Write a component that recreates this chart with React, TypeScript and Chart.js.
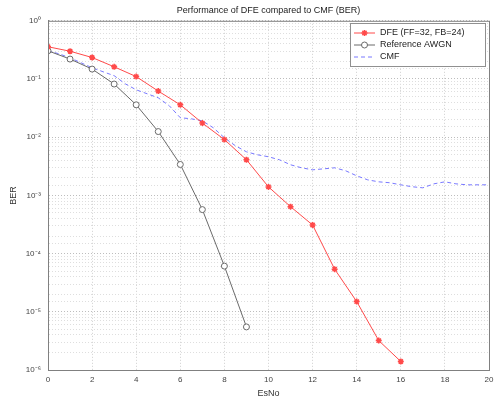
import React, { useEffect, useRef } from "react";
import { Chart, registerables } from "chart.js";

Chart.register(...registerables);

const TITLE = "Performance of DFE compared to CMF (BER)";
const X_LABEL = "EsNo";
const Y_LABEL = "BER";

const esnoDFE = [0, 1, 2, 3, 4, 5, 6, 7, 8, 9, 10, 11, 12, 13, 14, 15, 16];
const berDFE = [0.358, 0.3, 0.234, 0.162, 0.11, 0.062, 0.036, 0.0175, 0.0091, 0.0041, 0.0014, 6.4e-4, 3.1e-4, 5.4e-5, 1.5e-5, 3.2e-6, 1.4e-6];

const esnoAWGN = [0, 1, 2, 3, 4, 5, 6, 7, 8, 9];
const berAWGN = [0.305, 0.22, 0.148, 0.082, 0.036, 0.0125, 0.0034, 5.7e-4, 6.1e-5, 5.5e-6];

const esnoCMF = [0, 0.5, 1, 1.5, 2, 2.5, 3, 3.5, 4, 4.5, 5, 5.5, 6, 6.5, 7, 7.5, 8, 8.5, 9, 9.5, 10, 10.5, 11, 11.5, 12, 12.5, 13, 13.5, 14, 14.5, 15, 15.5, 16, 16.5, 17, 17.5, 18, 18.5, 19, 19.5, 20];
const berCMF = [0.305, 0.271, 0.231, 0.19, 0.156, 0.133, 0.114, 0.0828, 0.0652, 0.0557, 0.0475, 0.0347, 0.0216, 0.0207, 0.0191, 0.0145, 0.00977, 0.00712, 0.00561, 0.00499, 0.00461, 0.00409, 0.00336, 0.00298, 0.00275, 0.00286, 0.00298, 0.00265, 0.00217, 0.00185, 0.00171, 0.00165, 0.00152, 0.00141, 0.00135, 0.00158, 0.00171, 0.00158, 0.00152, 0.00152, 0.00152];

const seriesLabels = ["DFE (FF=32, FB=24)", "Reference AWGN", "CMF"];
const xTicks = [0, 2, 4, 6, 8, 10, 12, 14, 16, 18, 20];
const SUP: Record<string, string> = { "0": "⁰", "1": "¹", "2": "²", "3": "³", "4": "⁴", "5": "⁵", "6": "⁶", "-": "⁻" };

const RED = "#ff4a4a";
const GRAY = "#6a6a6a";
const BLUE = "#7878ff";
const FONT = "'Liberation Sans', Arial, sans-serif";

const isDecade = (v: number) => {
  const l = Math.log10(v);
  return Math.abs(l - Math.round(l)) < 1e-6;
};

function drawStar(ctx: CanvasRenderingContext2D, x: number, y: number, r: number) {
  for (let i = 0; i < 4; i++) {
    const a = (i * Math.PI) / 4;
    ctx.beginPath();
    ctx.moveTo(x - r * Math.cos(a), y - r * Math.sin(a));
    ctx.lineTo(x + r * Math.cos(a), y + r * Math.sin(a));
    ctx.stroke();
  }
}

const framePlugin = {
  id: "frame",
  afterDraw(chart: any) {
    const { ctx, chartArea } = chart;
    const { left, right, top, bottom } = chartArea;
    ctx.save();
    ctx.strokeStyle = "#808080";
    ctx.lineWidth = 1;
    ctx.strokeRect(left + 0.5, top + 0.5, right - left, bottom - top);

    // legend box
    const bx = 350, by = 23, bw = 135, bh = 43;
    ctx.fillStyle = "#ffffff";
    ctx.fillRect(bx, by, bw, bh);
    ctx.strokeStyle = "#909090";
    ctx.strokeRect(bx + 0.5, by + 0.5, bw, bh);
    const rows = [33, 45, 57];
    const cols = [RED, GRAY, BLUE];
    rows.forEach((ry, i) => {
      ctx.strokeStyle = cols[i];
      ctx.lineWidth = 1;
      ctx.setLineDash(i === 2 ? [4, 3] : []);
      ctx.beginPath();
      ctx.moveTo(354, ry);
      ctx.lineTo(375, ry);
      ctx.stroke();
      ctx.setLineDash([]);
      if (i === 0) {
        ctx.lineWidth = 1.5;
        drawStar(ctx, 364.5, ry, 3);
      } else if (i === 1) {
        ctx.fillStyle = "#ffffff";
        ctx.beginPath();
        ctx.arc(364.5, ry, 3, 0, Math.PI * 2);
        ctx.fill();
        ctx.stroke();
      }
      ctx.fillStyle = "#222222";
      ctx.font = `9px ${FONT}`;
      ctx.textBaseline = "middle";
      ctx.textAlign = "left";
      ctx.fillText(seriesLabels[i], 380, ry);
    });
    ctx.restore();
  },
};

export default function App() {
  const ref = useRef<HTMLCanvasElement | null>(null);

  useEffect(() => {
    if (!ref.current) return;
    const chart = new Chart(ref.current, {
      type: "line",
      data: {
        datasets: [
          {
            label: seriesLabels[0],
            data: esnoDFE.map((x, i) => ({ x, y: berDFE[i] })),
            borderColor: RED,
            backgroundColor: RED,
            borderWidth: 1,
            pointStyle: "star",
            pointRadius: 3,
            pointBorderWidth: 1.5,
            tension: 0,
          },
          {
            label: seriesLabels[1],
            data: esnoAWGN.map((x, i) => ({ x, y: berAWGN[i] })),
            borderColor: GRAY,
            backgroundColor: "#ffffff",
            borderWidth: 1,
            pointStyle: "circle",
            pointRadius: 3,
            pointBorderWidth: 1,
            tension: 0,
          },
          {
            label: seriesLabels[2],
            data: esnoCMF.map((x, i) => ({ x, y: berCMF[i] })),
            borderColor: BLUE,
            backgroundColor: BLUE,
            borderWidth: 1,
            borderDash: [4, 3],
            pointRadius: 0,
            tension: 0,
          },
        ],
      },
      options: {
        responsive: false,
        animation: false,
        layout: { padding: { left: 0, right: 10, top: 0, bottom: 0 } },
        plugins: {
          legend: { display: false },
          tooltip: { enabled: false },
          title: {
            display: true,
            text: TITLE,
            fullSize: false,
            color: "#222222",
            font: { size: 9, family: FONT, weight: "normal" },
            padding: { top: 5, bottom: 5 },
          },
        },
        scales: {
          x: {
            type: "linear",
            min: 0,
            max: 20,
            afterBuildTicks: (scale: any) => {
              scale.ticks = xTicks.map((v) => ({ value: v }));
            },
            afterFit: (scale: any) => {
              scale.height = 31;
            },
            ticks: {
              color: "#444444",
              font: { size: 8, family: FONT },
              padding: 5,
              maxRotation: 0,
            },
            grid: { color: "#cfcfcf", drawTicks: false },
            border: { display: true, color: "#808080", dash: [1, 2] },
            title: {
              display: true,
              text: X_LABEL,
              color: "#333333",
              font: { size: 9, family: FONT },
              padding: { top: 0, bottom: 2 },
            },
          },
          y: {
            type: "logarithmic",
            min: 1e-6,
            max: 1,
            afterFit: (scale: any) => {
              scale.width = 48;
            },
            ticks: {
              color: "#444444",
              font: { size: 8, family: FONT },
              padding: 7,
              autoSkip: false,
              callback: (v: any) => {
                const n = Number(v);
                if (!isDecade(n)) return "";
                const e = String(Math.round(Math.log10(n)));
                return "10" + e.split("").map((c) => SUP[c] || c).join("");
              },
            },
            grid: {
              drawTicks: false,
              color: (ctx: any) => (ctx.tick && isDecade(ctx.tick.value) ? "#bdbdbd" : "#dedede"),
            },
            border: { display: true, color: "#808080", dash: [1, 2] },
            title: {
              display: true,
              text: Y_LABEL,
              color: "#333333",
              font: { size: 9, family: FONT },
              padding: { top: 8, bottom: 0 },
            },
          },
        },
      },
      plugins: [framePlugin],
    });
    return () => chart.destroy();
  }, []);

  return (
    <div style={{ position: "fixed", left: 0, top: 0, width: 499, height: 401, background: "#ffffff" }}>
      <canvas ref={ref} width={499} height={401} style={{ display: "block" }} />
    </div>
  );
}
